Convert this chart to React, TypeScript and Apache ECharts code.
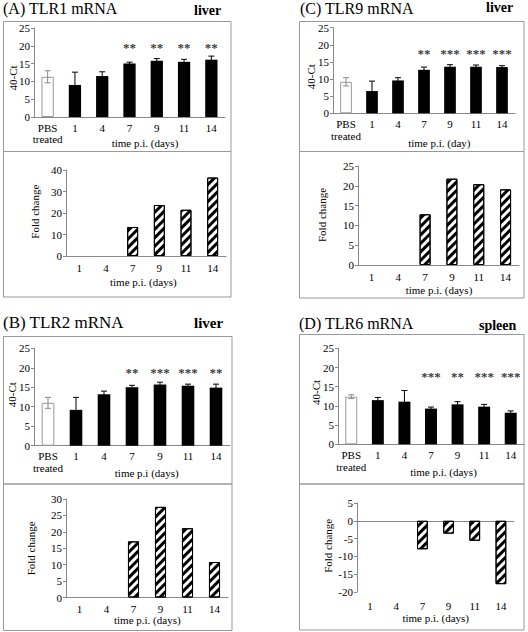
import React, { useEffect, useRef } from "react";
import * as echarts from "echarts";

// ---------- data ----------
const TOP_CATS = ["PBS\ntreated", "1", "4", "7", "9", "11", "14"];
const FOLD_CATS = ["1", "4", "7", "9", "11", "14"];

const A_CT = [11.3, 9.0, 11.5, 15.0, 15.8, 15.5, 16.1];
const A_ERR = [1.7, 3.6, 1.2, 0.4, 0.6, 0.7, 1.0];
const A_STARS = ["", "", "", "**", "**", "**", "**"];
const A_FOLD = [null, null, 13.5, 23.7, 21.5, 36.5];

const B_CT = [11.0, 9.2, 13.2, 15.0, 15.7, 15.4, 14.9];
const B_ERR = [1.4, 3.2, 0.8, 0.5, 0.6, 0.4, 0.9];
const B_STARS = ["", "", "", "**", "***", "***", "**"];
const B_FOLD = [null, null, 17.1, 27.6, 21.1, 10.8];

const C_CT = [9.2, 6.5, 9.6, 12.7, 13.6, 13.6, 13.5];
const C_ERR = [1.2, 2.9, 0.8, 0.8, 0.6, 0.5, 0.4];
const C_STARS = ["", "", "", "**", "***", "***", "***"];
const C_FOLD = [null, null, 12.8, 21.8, 20.4, 19.1];

const D_CT = [12.4, 11.5, 11.1, 9.3, 10.4, 9.8, 8.2];
const D_ERR = [0.5, 0.7, 2.9, 0.4, 0.7, 0.6, 0.5];
const D_STARS = ["", "", "", "***", "**", "***", "***"];
const D_FOLD = [null, null, -8.0, -3.6, -5.6, -17.8];

const FONT = "Liberation Serif";

type Rect = { left: number; top: number; width: number; height: number };

interface PanelCfg {
  gTop: Rect;
  gBot: Rect;
  ct: number[];
  err: number[];
  stars: string[];
  starY: number;
  fold: (number | null)[];
  foldMin: number;
  foldMax: number;
  foldInterval: number;
}

function buildOption() {
  const grid: any[] = [];
  const xAxis: any[] = [];
  const yAxis: any[] = [];
  const series: any[] = [];

  const axisColor = "#888";
  const labelStyle = { fontFamily: FONT, fontSize: 11, color: "#000" };

  const addPanel = (p: PanelCfg) => {
    // ---- top: 40-Ct ----
    const gi = grid.length;
    grid.push({ ...p.gTop, containLabel: false });
    const xi = xAxis.length;
    xAxis.push({
      type: "category",
      gridIndex: gi,
      data: TOP_CATS,
      axisLine: { lineStyle: { color: axisColor } },
      axisTick: { length: 3, lineStyle: { color: axisColor } },
      axisLabel: { ...labelStyle, margin: 5, lineHeight: 11.5, interval: 0 },
    });
    const yi = yAxis.length;
    yAxis.push({
      type: "value",
      gridIndex: gi,
      min: 0,
      max: 25,
      interval: 5,
      axisLine: { show: true, lineStyle: { color: axisColor } },
      axisTick: { show: true, length: 3, lineStyle: { color: axisColor } },
      splitLine: { show: false },
      axisLabel: { ...labelStyle, margin: 4 },
    });
    series.push({
      type: "bar",
      xAxisIndex: xi,
      yAxisIndex: yi,
      barWidth: "45%",
      data: p.ct.map((v, i) =>
        i === 0
          ? { value: v, itemStyle: { color: "#fff", borderColor: "#999", borderWidth: 1 } }
          : { value: v, itemStyle: { color: "#000" } }
      ),
    });
    series.push({
      type: "custom",
      xAxisIndex: xi,
      yAxisIndex: yi,
      z: 5,
      data: p.ct.map((v, i) => [i, v, p.err[i]]),
      renderItem: (params: any, api: any) => {
        const x = api.value(0);
        const v = api.value(1);
        const e = api.value(2);
        const t = api.coord([x, v + e]);
        const b = api.coord([x, v - e]);
        const color = params.dataIndex === 0 ? "#888" : "#000";
        const st = { stroke: color, lineWidth: 1 };
        const h = 3;
        return {
          type: "group",
          children: [
            { type: "line", shape: { x1: t[0], y1: t[1], x2: b[0], y2: b[1] }, style: st },
            { type: "line", shape: { x1: t[0] - h, y1: t[1], x2: t[0] + h, y2: t[1] }, style: st },
            { type: "line", shape: { x1: b[0] - h, y1: b[1], x2: b[0] + h, y2: b[1] }, style: st },
          ],
        };
      },
    });
    series.push({
      type: "scatter",
      xAxisIndex: xi,
      yAxisIndex: yi,
      symbolSize: 1,
      itemStyle: { color: "rgba(0,0,0,0)" },
      z: 6,
      data: p.stars.map((s, i) => [i, p.starY]),
      label: {
        show: true,
        position: "inside",
        fontFamily: FONT,
        fontSize: 13,
        fontWeight: "bold",
        color: "#000",
        formatter: (q: any) => p.stars[q.dataIndex],
      },
    });

    // ---- bottom: fold change ----
    const gj = grid.length;
    grid.push({ ...p.gBot, containLabel: false });
    const hasNeg = p.foldMin < 0;
    const xj = xAxis.length;
    xAxis.push({
      type: "category",
      gridIndex: gj,
      data: FOLD_CATS,
      position: "bottom",
      axisLine: { onZero: true, lineStyle: { color: axisColor } },
      axisTick: { length: 3, lineStyle: { color: axisColor } },
      axisLabel: hasNeg ? { show: false } : { ...labelStyle, margin: 6, interval: 0 },
    });
    if (hasNeg) {
      xAxis.push({
        type: "category",
        gridIndex: gj,
        data: FOLD_CATS,
        position: "bottom",
        axisLine: { show: false, onZero: false },
        axisTick: { show: false },
        axisLabel: { ...labelStyle, margin: 8, interval: 0 },
      });
    }
    const yj = yAxis.length;
    yAxis.push({
      type: "value",
      gridIndex: gj,
      min: p.foldMin,
      max: p.foldMax,
      interval: p.foldInterval,
      axisLine: { show: true, onZero: false, lineStyle: { color: axisColor } },
      axisTick: { show: true, length: 3, lineStyle: { color: axisColor } },
      splitLine: { show: false },
      axisLabel: { ...labelStyle, margin: 4 },
    });
    series.push({
      type: "bar",
      xAxisIndex: xj,
      yAxisIndex: yj,
      barWidth: "41%",
      data: p.fold,
      itemStyle: {
        color: "#fff",
        borderColor: "#000",
        borderWidth: 1,
        decal: {
          symbol: "rect",
          symbolSize: 1,
          symbolKeepAspect: false,
          color: "#000",
          backgroundColor: "#fff",
          dashArrayX: [1, 0],
          dashArrayY: [2.6, 2.4],
          rotation: -Math.PI / 4,
        },
      },
    });
  };

  addPanel({
    gTop: { left: 34, top: 28, width: 191, height: 89 },
    gBot: { left: 66, top: 170, width: 160, height: 86 },
    ct: A_CT, err: A_ERR, stars: A_STARS, starY: 19.6,
    fold: A_FOLD, foldMin: 0, foldMax: 40, foldInterval: 10,
  });
  addPanel({
    gTop: { left: 333, top: 27.7, width: 182, height: 85.6 },
    gBot: { left: 358, top: 166, width: 161, height: 99 },
    ct: C_CT, err: C_ERR, stars: C_STARS, starY: 17.6,
    fold: C_FOLD, foldMin: 0, foldMax: 25, foldInterval: 5,
  });
  addPanel({
    gTop: { left: 34, top: 348.3, width: 196, height: 97.4 },
    gBot: { left: 66, top: 499, width: 162, height: 98.5 },
    ct: B_CT, err: B_ERR, stars: B_STARS, starY: 18.8,
    fold: B_FOLD, foldMin: 0, foldMax: 30, foldInterval: 5,
  });
  addPanel({
    gTop: { left: 338, top: 348.3, width: 186, height: 96 },
    gBot: { left: 357, top: 503, width: 157, height: 89 },
    ct: D_CT, err: D_ERR, stars: D_STARS, starY: 17.6,
    fold: D_FOLD, foldMin: -20, foldMax: 5, foldInterval: 5,
  });

  const text = (t: string, x: number, y: number, size: number, opts: any = {}) => ({
    type: "text",
    x,
    y,
    rotation: opts.rotation || 0,
    style: {
      text: t,
      fontFamily: FONT,
      fontSize: size,
      fontWeight: opts.bold ? "bold" : "normal",
      fill: "#000",
      textAlign: opts.align || "center",
      textVerticalAlign: "middle",
      align: opts.align || "center",
      verticalAlign: "middle",
    },
  });
  const box = (x: number, y: number, w: number, h: number) => ({
    type: "rect",
    shape: { x, y, width: w, height: h },
    style: { fill: "none", stroke: "#999", lineWidth: 1 },
    z: -1,
  });
  const R = Math.PI / 2;

  const graphic = [
    box(3.5, 21.5, 227.5, 130),
    box(3.5, 151.5, 227.5, 145.5),
    box(299.5, 21.5, 224.5, 130),
    box(299.5, 151.5, 224.5, 146.5),
    box(3.5, 336.5, 228.5, 147.5),
    box(3.5, 484, 228.5, 146.5),
    box(299.5, 334.5, 224.5, 149.5),
    box(299.5, 484, 224.5, 146),

    text("(A) TLR1 mRNA", 3, 8, 16, { align: "left" }),
    text("liver", 194, 10, 14, { align: "left", bold: true }),
    text("(C) TLR9 mRNA", 300, 8, 16, { align: "left" }),
    text("liver", 486, 7, 14, { align: "left", bold: true }),
    text("(B) TLR2 mRNA", 3, 322, 17, { align: "left" }),
    text("liver", 194, 323, 15, { align: "left", bold: true }),
    text("(D) TLR6 mRNA", 299, 323, 16, { align: "left" }),
    text("spleen", 479, 325, 14, { align: "left", bold: true }),

    text("40-Ct", 12.5, 78, 11, { rotation: R }),
    text("time p.i. (days)", 145, 143.3, 11),
    text("Fold change", 34.5, 211.7, 11, { rotation: R }),
    text("time p.i. (days)", 143.3, 281.7, 11),

    text("40-Ct", 310.7, 76.7, 11, { rotation: R }),
    text("time p.i. (day)", 439.3, 143.3, 11),
    text("Fold change", 322.3, 215, 11, { rotation: R }),
    text("time p.i. (days)", 439, 290, 11),

    text("40-Ct", 11.7, 394.7, 11, { rotation: R }),
    text("time p.i (days)", 146.7, 473.3, 11),
    text("Fold change", 30.5, 548.3, 11, { rotation: R }),
    text("time p.i. (days)", 147.3, 620, 11),

    text("40-Ct", 315.7, 392.5, 11, { rotation: R }),
    text("time p.i. (days)", 443.5, 472.3, 11),
    text("Fold change", 327.8, 545.8, 11, { rotation: R }),
    text("time p.i. (days)", 435.7, 618.3, 11),
  ];

  return {
    animation: false,
    backgroundColor: "#fff",
    grid,
    xAxis,
    yAxis,
    series,
    graphic,
  };
}

export default function App() {
  const ref = useRef<HTMLDivElement>(null);
  useEffect(() => {
    if (!ref.current) return;
    const chart = echarts.init(ref.current, undefined, { renderer: "svg" });
    chart.setOption(buildOption() as any);
    return () => chart.dispose();
  }, []);
  return (
    <div
      ref={ref}
      style={{ position: "fixed", left: 0, top: 0, width: 528, height: 632, background: "#fff" }}
    />
  );
}
